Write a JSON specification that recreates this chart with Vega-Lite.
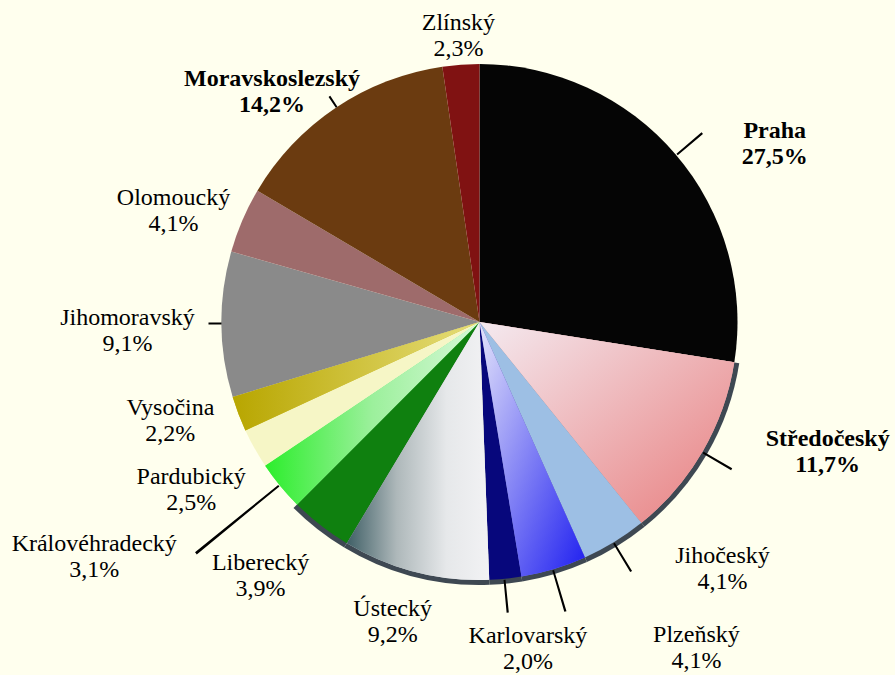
{
  "$schema": "https://vega.github.io/schema/vega-lite/v6.json",
  "width": 959,
  "height": 706,
  "autosize": "none",
  "padding": {"left": 0, "right": -64, "top": -31, "bottom": 0},
  "background": "#FFFFEE",
  "config": {
    "view": {
      "stroke": null,
      "fill": {"gradient": "linear", "x1": 0, "y1": 0, "x2": 0, "y2": 1,
        "stops": [{"offset": 0, "color": "#FFFFFF"}, {"offset": 1, "color": "#FFFFC8"}]}
    }
  },
  "data": {
    "values": [
      {"region": "Praha", "share": 27.5, "order": 1},
      {"region": "Středočeský", "share": 11.7, "order": 2},
      {"region": "Jihočeský", "share": 4.1, "order": 3},
      {"region": "Plzeňský", "share": 4.1, "order": 4},
      {"region": "Karlovarský", "share": 2.0, "order": 5},
      {"region": "Ústecký", "share": 9.2, "order": 6},
      {"region": "Liberecký", "share": 3.9, "order": 7},
      {"region": "Královéhradecký", "share": 3.1, "order": 8},
      {"region": "Pardubický", "share": 2.5, "order": 9},
      {"region": "Vysočina", "share": 2.2, "order": 10},
      {"region": "Jihomoravský", "share": 9.1, "order": 11},
      {"region": "Olomoucký", "share": 4.1, "order": 12},
      {"region": "Moravskoslezský", "share": 14.2, "order": 13},
      {"region": "Zlínský", "share": 2.3, "order": 14}
    ]
  },
  "transform": [
    {"window": [{"op": "sum", "field": "share", "as": "cum"}], "sort": [{"field": "order"}], "frame": [null, 0]},
    {"calculate": "datum.cum - datum.share", "as": "start"},
    {"calculate": "datum.cum - datum.share / 2", "as": "mid"},
    {"calculate": "datum.mid + 0.12", "as": "mid2"},
    {"calculate": "datum.region + '\\n' + replace(format(datum.share, '.1f'), '.', ',') + '%'", "as": "label"}
  ],
  "layer": [
    {
      "transform": [{"filter": {"field": "region", "oneOf": ["Středočeský", "Jihočeský", "Plzeňský", "Karlovarský", "Ústecký", "Liberecký"]}}],
      "mark": {"type": "arc", "radius": 263, "color": "#3E4852"},
      "encoding": {
        "theta": {"field": "start", "type": "quantitative", "stack": null, "scale": {"domain": [0, 100], "range": [0, 6.283185307179586]}},
        "theta2": {"field": "cum"}
      }
    },
    {
      "mark": {"type": "arc", "radius": 258},
      "encoding": {
        "theta": {"field": "start", "type": "quantitative", "stack": null, "scale": {"domain": [0, 100], "range": [0, 6.283185307179586]}},
        "theta2": {"field": "cum"},
        "color": {
          "field": "region", "type": "nominal", "legend": null,
          "scale": {
            "domain": ["Praha", "Středočeský", "Jihočeský", "Plzeňský", "Karlovarský", "Ústecký", "Liberecký", "Královéhradecký", "Pardubický", "Vysočina", "Jihomoravský", "Olomoucký", "Moravskoslezský", "Zlínský"],
            "range": ["#050505", "#EDA9AE", "#9DBFE4", "#7878F0", "#07077C", "#D6D9DB", "#0F800F", "#5CF05C", "#F6F6C6", "#C9BA1E", "#8A8A8A", "#9E6B6B", "#6B3B10", "#801212"]
          }
        }
      }
    },
    {
      "transform": [{"filter": "datum.region == 'Středočeský'"}],
      "mark": {"type": "arc", "radius": 258, "color": {"gradient": "linear", "x1": 0, "y1": 0, "x2": 1, "y2": 1, "stops": [{"offset": 0, "color": "#F4EAF0"}, {"offset": 1, "color": "#E87E7E"}]}},
      "encoding": {
        "theta": {"field": "start", "type": "quantitative", "stack": null, "scale": {"domain": [0, 100], "range": [0, 6.283185307179586]}},
        "theta2": {"field": "cum"}
      }
    },
    {
      "transform": [{"filter": "datum.region == 'Plzeňský'"}],
      "mark": {"type": "arc", "radius": 258, "color": {"gradient": "linear", "x1": 0, "y1": 0, "x2": 1, "y2": 1, "stops": [{"offset": 0, "color": "#E4E4FA"}, {"offset": 1, "color": "#1E1EF0"}]}},
      "encoding": {
        "theta": {"field": "start", "type": "quantitative", "stack": null, "scale": {"domain": [0, 100], "range": [0, 6.283185307179586]}},
        "theta2": {"field": "cum"}
      }
    },
    {
      "transform": [{"filter": "datum.region == 'Ústecký'"}],
      "mark": {"type": "arc", "radius": 258, "color": {"gradient": "linear", "x1": 0, "y1": 0.5, "x2": 1, "y2": 0.5, "stops": [{"offset": 0, "color": "#3F5F66"}, {"offset": 0.35, "color": "#AEB8BA"}, {"offset": 0.7, "color": "#E6E8EA"}, {"offset": 1, "color": "#F2F2F4"}]}},
      "encoding": {
        "theta": {"field": "start", "type": "quantitative", "stack": null, "scale": {"domain": [0, 100], "range": [0, 6.283185307179586]}},
        "theta2": {"field": "cum"}
      }
    },
    {
      "transform": [{"filter": "datum.region == 'Královéhradecký'"}],
      "mark": {"type": "arc", "radius": 258, "color": {"gradient": "linear", "x1": 0, "y1": 0.5, "x2": 1, "y2": 0.5, "stops": [{"offset": 0, "color": "#2CEE2C"}, {"offset": 0.5, "color": "#9CF09C"}, {"offset": 1, "color": "#D8F8D8"}]}},
      "encoding": {
        "theta": {"field": "start", "type": "quantitative", "stack": null, "scale": {"domain": [0, 100], "range": [0, 6.283185307179586]}},
        "theta2": {"field": "cum"}
      }
    },
    {
      "transform": [{"filter": "datum.region == 'Vysočina'"}],
      "mark": {"type": "arc", "radius": 258, "color": {"gradient": "linear", "x1": 0, "y1": 0.5, "x2": 1, "y2": 0.5, "stops": [{"offset": 0, "color": "#B8A600"}, {"offset": 1, "color": "#E6DE7A"}]}},
      "encoding": {
        "theta": {"field": "start", "type": "quantitative", "stack": null, "scale": {"domain": [0, 100], "range": [0, 6.283185307179586]}},
        "theta2": {"field": "cum"}
      }
    },
    {
      "transform": [{"filter": {"field": "region", "oneOf": ["Praha", "Středočeský", "Jihočeský", "Karlovarský"]}}],
      "mark": {"type": "arc", "radius": 292, "radius2": 259, "color": "#000000"},
      "encoding": {
        "theta": {"field": "mid", "type": "quantitative", "stack": null, "scale": {"domain": [0, 100], "range": [0, 6.283185307179586]}},
        "theta2": {"field": "mid2"}
      }
    },
    {
      "transform": [{"filter": "datum.region == 'Plzeňský'"}],
      "mark": {"type": "arc", "radius": 302, "radius2": 259, "color": "#000000"},
      "encoding": {
        "theta": {"field": "mid", "type": "quantitative", "stack": null, "scale": {"domain": [0, 100], "range": [0, 6.283185307179586]}},
        "theta2": {"field": "mid2"}
      }
    },
    {
      "transform": [{"filter": "datum.region == 'Královéhradecký'"}],
      "mark": {"type": "arc", "radius": 366, "radius2": 259, "color": "#000000"},
      "encoding": {
        "theta": {"field": "mid", "type": "quantitative", "stack": null, "scale": {"domain": [0, 100], "range": [0, 6.283185307179586]}},
        "theta2": {"field": "mid2"}
      }
    },
    {
      "transform": [{"filter": {"field": "region", "oneOf": ["Moravskoslezský", "Jihomoravský"]}}],
      "mark": {"type": "arc", "radius": 271, "radius2": 258, "color": "#000000"},
      "encoding": {
        "theta": {"field": "mid", "type": "quantitative", "stack": null, "scale": {"domain": [0, 100], "range": [0, 6.283185307179586]}},
        "theta2": {"field": "mid2"}
      }
    },
    {"transform": [{"filter": "datum.region == 'Zlínský'"}],
     "mark": {"type": "text", "radius": 333, "font": "Liberation Serif", "fontSize": 24, "lineBreak": "\n", "lineHeight": 26, "align": "center", "baseline": "middle", "color": "#000000", "dx": 3, "dy": 33},
     "encoding": {"theta": {"field": "mid", "type": "quantitative", "stack": null, "scale": {"domain": [0, 100], "range": [0, 6.283185307179586]}}, "text": {"field": "label"}}},
    {"transform": [{"filter": "datum.region == 'Moravskoslezský'"}],
     "mark": {"type": "text", "radius": 333, "font": "Liberation Serif", "fontSize": 24, "fontWeight": "bold", "lineBreak": "\n", "lineHeight": 26, "align": "center", "baseline": "middle", "color": "#000000", "dx": -22, "dy": 34},
     "encoding": {"theta": {"field": "mid", "type": "quantitative", "stack": null, "scale": {"domain": [0, 100], "range": [0, 6.283185307179586]}}, "text": {"field": "label"}}},
    {"transform": [{"filter": "datum.region == 'Praha'"}],
     "mark": {"type": "text", "radius": 333, "font": "Liberation Serif", "fontSize": 24, "fontWeight": "bold", "lineBreak": "\n", "lineHeight": 26, "align": "center", "baseline": "middle", "color": "#000000", "dx": 42, "dy": 25},
     "encoding": {"theta": {"field": "mid", "type": "quantitative", "stack": null, "scale": {"domain": [0, 100], "range": [0, 6.283185307179586]}}, "text": {"field": "label"}}},
    {"transform": [{"filter": "datum.region == 'Středočeský'"}],
     "mark": {"type": "text", "radius": 333, "font": "Liberation Serif", "fontSize": 24, "fontWeight": "bold", "lineBreak": "\n", "lineHeight": 26, "align": "center", "baseline": "middle", "color": "#000000", "dx": 60, "dy": -50},
     "encoding": {"theta": {"field": "mid", "type": "quantitative", "stack": null, "scale": {"domain": [0, 100], "range": [0, 6.283185307179586]}}, "text": {"field": "label"}}},
    {"transform": [{"filter": "datum.region == 'Jihočeský'"}],
     "mark": {"type": "text", "radius": 333, "font": "Liberation Serif", "fontSize": 24, "lineBreak": "\n", "lineHeight": 26, "align": "center", "baseline": "middle", "color": "#000000", "dx": 69, "dy": -50},
     "encoding": {"theta": {"field": "mid", "type": "quantitative", "stack": null, "scale": {"domain": [0, 100], "range": [0, 6.283185307179586]}}, "text": {"field": "label"}}},
    {"transform": [{"filter": "datum.region == 'Plzeňský'"}],
     "mark": {"type": "text", "radius": 333, "font": "Liberation Serif", "fontSize": 24, "lineBreak": "\n", "lineHeight": 26, "align": "center", "baseline": "middle", "color": "#000000", "dx": 121, "dy": -6},
     "encoding": {"theta": {"field": "mid", "type": "quantitative", "stack": null, "scale": {"domain": [0, 100], "range": [0, 6.283185307179586]}}, "text": {"field": "label"}}},
    {"transform": [{"filter": "datum.region == 'Karlovarský'"}],
     "mark": {"type": "text", "radius": 333, "font": "Liberation Serif", "fontSize": 24, "lineBreak": "\n", "lineHeight": 26, "align": "center", "baseline": "middle", "color": "#000000", "dx": 15, "dy": -17},
     "encoding": {"theta": {"field": "mid", "type": "quantitative", "stack": null, "scale": {"domain": [0, 100], "range": [0, 6.283185307179586]}}, "text": {"field": "label"}}},
    {"transform": [{"filter": "datum.region == 'Ústecký'"}],
     "mark": {"type": "text", "radius": 333, "font": "Liberation Serif", "fontSize": 24, "lineBreak": "\n", "lineHeight": 26, "align": "center", "baseline": "middle", "color": "#000000", "dx": -4, "dy": -36},
     "encoding": {"theta": {"field": "mid", "type": "quantitative", "stack": null, "scale": {"domain": [0, 100], "range": [0, 6.283185307179586]}}, "text": {"field": "label"}}},
    {"transform": [{"filter": "datum.region == 'Liberecký'"}],
     "mark": {"type": "text", "radius": 333, "font": "Liberation Serif", "fontSize": 24, "lineBreak": "\n", "lineHeight": 26, "align": "center", "baseline": "middle", "color": "#000000", "dx": -14, "dy": -21},
     "encoding": {"theta": {"field": "mid", "type": "quantitative", "stack": null, "scale": {"domain": [0, 100], "range": [0, 6.283185307179586]}}, "text": {"field": "label"}}},
    {"transform": [{"filter": "datum.region == 'Královéhradecký'"}],
     "mark": {"type": "text", "radius": 333, "font": "Liberation Serif", "fontSize": 24, "lineBreak": "\n", "lineHeight": 26, "align": "center", "baseline": "middle", "color": "#000000", "dx": -128, "dy": 11},
     "encoding": {"theta": {"field": "mid", "type": "quantitative", "stack": null, "scale": {"domain": [0, 100], "range": [0, 6.283185307179586]}}, "text": {"field": "label"}}},
    {"transform": [{"filter": "datum.region == 'Pardubický'"}],
     "mark": {"type": "text", "radius": 333, "font": "Liberation Serif", "fontSize": 24, "lineBreak": "\n", "lineHeight": 26, "align": "center", "baseline": "middle", "color": "#000000", "dx": 2, "dy": -8},
     "encoding": {"theta": {"field": "mid", "type": "quantitative", "stack": null, "scale": {"domain": [0, 100], "range": [0, 6.283185307179586]}}, "text": {"field": "label"}}},
    {"transform": [{"filter": "datum.region == 'Vysočina'"}],
     "mark": {"type": "text", "radius": 333, "font": "Liberation Serif", "fontSize": 24, "lineBreak": "\n", "lineHeight": 26, "align": "center", "baseline": "middle", "color": "#000000", "dx": 2, "dy": -33},
     "encoding": {"theta": {"field": "mid", "type": "quantitative", "stack": null, "scale": {"domain": [0, 100], "range": [0, 6.283185307179586]}}, "text": {"field": "label"}}},
    {"transform": [{"filter": "datum.region == 'Jihomoravský'"}],
     "mark": {"type": "text", "radius": 333, "font": "Liberation Serif", "fontSize": 24, "lineBreak": "\n", "lineHeight": 26, "align": "center", "baseline": "middle", "color": "#000000", "dx": -19, "dy": -7},
     "encoding": {"theta": {"field": "mid", "type": "quantitative", "stack": null, "scale": {"domain": [0, 100], "range": [0, 6.283185307179586]}}, "text": {"field": "label"}}},
    {"transform": [{"filter": "datum.region == 'Olomoucký'"}],
     "mark": {"type": "text", "radius": 333, "font": "Liberation Serif", "fontSize": 24, "lineBreak": "\n", "lineHeight": 26, "align": "center", "baseline": "middle", "color": "#000000", "dx": 0, "dy": 7},
     "encoding": {"theta": {"field": "mid", "type": "quantitative", "stack": null, "scale": {"domain": [0, 100], "range": [0, 6.283185307179586]}}, "text": {"field": "label"}}}
  ]
}
